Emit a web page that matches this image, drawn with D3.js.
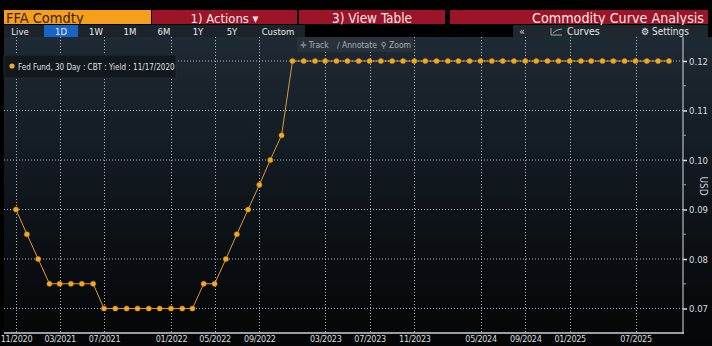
<!DOCTYPE html>
<html lang="en">
<head>
  <meta charset="UTF-8" />
  <title>FFA Comdty | Commodity Curve Analysis</title>
  <script src="https://d3js.org/d3.v7.min.js"></script>
  <style>
    html, body { margin: 0; padding: 0; background: #000; }
    svg { display: block; }
    text { font-family: 'Liberation Sans Narrow', 'DejaVu Sans Condensed', 'Arial Narrow', sans-serif; }
  </style>
</head>
<body>
  <div id="chart"></div>

  <script>
    // monthly contracts on the curve
    var months = [
      '2020-11', '2020-12', '2021-01', '2021-02', '2021-03', '2021-04', '2021-05', '2021-06',
      '2021-07', '2021-08', '2021-09', '2021-10', '2021-11', '2021-12', '2022-01', '2022-02',
      '2022-03', '2022-04', '2022-05', '2022-06', '2022-07', '2022-08', '2022-09', '2022-10',
      '2022-11', '2022-12', '2023-01', '2023-02', '2023-03', '2023-04', '2023-05', '2023-06',
      '2023-07', '2023-08', '2023-09', '2023-10', '2023-11', '2023-12', '2024-01', '2024-02',
      '2024-03', '2024-04', '2024-05', '2024-06', '2024-07', '2024-08', '2024-09', '2024-10',
      '2024-11', '2024-12', '2025-01', '2025-02', '2025-03', '2025-04', '2025-05', '2025-06',
      '2025-07', '2025-08', '2025-09', '2025-10'
    ];

    // yield (USD)
    var yields = [
      0.090, 0.085, 0.080, 0.075, 0.075, 0.075, 0.075, 0.075,
      0.070, 0.070, 0.070, 0.070, 0.070, 0.070, 0.070, 0.070,
      0.070, 0.075, 0.075, 0.080, 0.085, 0.090, 0.095, 0.100,
      0.105, 0.120, 0.120, 0.120, 0.120, 0.120, 0.120, 0.120,
      0.120, 0.120, 0.120, 0.120, 0.120, 0.120, 0.120, 0.120,
      0.120, 0.120, 0.120, 0.120, 0.120, 0.120, 0.120, 0.120,
      0.120, 0.120, 0.120, 0.120, 0.120, 0.120, 0.120, 0.120,
      0.120, 0.120, 0.120, 0.120
    ];

    var xTickLabels = ['11/2020', '03/2021', '07/2021', '01/2022', '05/2022', '09/2022',
      '03/2023', '07/2023', '11/2023', '05/2024', '09/2024', '01/2025', '07/2025'];
    var yTicks = [0.07, 0.08, 0.09, 0.10, 0.11, 0.12];
    var yMinorTicks = [0.075, 0.085, 0.095, 0.105, 0.115];

    var periodButtons = ['Live', '1D', '1W', '1M', '6M', '1Y', '5Y', 'Custom'];
    var legendText = 'Fed Fund, 30 Day : CBT : Yield : 11/17/2020';

    var W = 712, H = 346;
    var parseMonth = d3.timeParse('%Y-%m');
    var parseLabel = d3.timeParse('%m/%Y');

    var data = months.map((m, i) => ({ date: parseMonth(m), value: yields[i] }));

    var xScale = d3.scaleTime()
      .domain([parseMonth('2020-11'), parseMonth('2025-10')])
      .range([16, 669]);

    var yScale = d3.scaleLinear()
      .domain([0.07, 0.12])
      .range([308.5, 61]);

    var svg = d3.select('#chart')
      .append('svg')
      .attr('width', W)
      .attr('height', H);

    var defs = svg.append('defs');
    var grad = defs.append('linearGradient')
      .attr('id', 'bg')
      .attr('x1', 0).attr('y1', 0).attr('x2', 0).attr('y2', 1);
    grad.append('stop').attr('offset', '0%').attr('stop-color', '#1e2a34');
    grad.append('stop').attr('offset', '55%').attr('stop-color', '#0e141a');
    grad.append('stop').attr('offset', '100%').attr('stop-color', '#040506');

    svg.append('rect').attr('width', W).attr('height', H).attr('fill', '#000');

    // plot background
    svg.append('rect')
      .attr('x', 4).attr('y', 37)
      .attr('width', W - 4).attr('height', H - 37)
      .attr('fill', 'url(#bg)');

    // header bar
    var header = svg.append('g');
    header.append('rect').attr('x', 4).attr('y', 10).attr('width', 147).attr('height', 14).attr('fill', '#f59f1c');
    header.append('text').attr('x', 6).attr('y', 22.5)
      .attr('font-size', 14.5).attr('fill', '#3b1e05').text('FFA Comdty');

    var redBoxes = [
      { x: 152, w: 145, label: '1) Actions \u25BE', anchor: 'middle', size: 13 },
      { x: 299, w: 146, label: '3) View Table', anchor: 'middle', size: 13.5 },
      { x: 450, w: 258, label: 'Commodity Curve Analysis', anchor: 'end', size: 14.2 }
    ];
    redBoxes.forEach(b => {
      header.append('rect').attr('x', b.x).attr('y', 10).attr('width', b.w).attr('height', 14).attr('fill', '#9c1428');
      header.append('text')
        .attr('x', b.anchor === 'end' ? b.x + b.w - 4 : b.x + b.w / 2)
        .attr('y', 22.5)
        .attr('text-anchor', b.anchor)
        .attr('font-size', b.size)
        .attr('fill', '#f2e6e6')
        .text(b.label);
    });

    // period buttons row
    header.append('rect').attr('x', 4).attr('y', 25).attr('width', 301).attr('height', 12).attr('fill', '#1c242b');
    var btnCenters = [20, 61, 96, 130, 164, 198, 232, 278];
    header.append('rect').attr('x', 44).attr('y', 25).attr('width', 34).attr('height', 12).attr('fill', '#1a63c4');
    periodButtons.forEach((b, i) => {
      header.append('text')
        .attr('x', btnCenters[i]).attr('y', 34.5)
        .attr('text-anchor', 'middle')
        .attr('font-size', 9.5)
        .attr('fill', '#e8ecef')
        .text(b);
    });

    // right toolbar
    header.append('rect').attr('x', 513).attr('y', 25).attr('width', 195).attr('height', 12).attr('fill', '#20282f');
    header.append('text').attr('x', 522).attr('y', 34.5).attr('text-anchor', 'middle')
      .attr('font-size', 10).attr('fill', '#d0d4d8').text('\u00AB');
    header.append('path').attr('d', 'M551,28 V35 H562 M553,33 L557,30 L562,29')
      .attr('fill', 'none').attr('stroke', '#c8ccd0').attr('stroke-width', 0.8);
    header.append('text').attr('x', 567).attr('y', 34.5)
      .attr('font-size', 10.5).attr('fill', '#e0e4e8').text('Curves');
    header.append('text').attr('x', 641).attr('y', 34.5)
      .attr('font-size', 10).attr('fill', '#e0e4e8').text('\u2699 Settings');

    // grid
    var grid = svg.append('g');
    yTicks.forEach(v => {
      grid.append('line')
        .attr('x1', 4).attr('x2', 683)
        .attr('y1', yScale(v)).attr('y2', yScale(v))
        .attr('stroke', '#c9cfd5').attr('stroke-width', 1)
        .attr('stroke-dasharray', '1,2').attr('opacity', 0.85);
    });
    xTickLabels.forEach(l => {
      var x = Math.round(xScale(parseLabel(l))) + 0.5;
      grid.append('line')
        .attr('x1', x).attr('x2', x)
        .attr('y1', 37).attr('y2', 332)
        .attr('stroke', '#c9cfd5').attr('stroke-width', 1)
        .attr('stroke-dasharray', '1,2').attr('opacity', 0.85);
    });

    // axes
    var xAxis = d3.axisBottom(xScale)
      .tickValues(xTickLabels.map(parseLabel))
      .tickFormat(d3.timeFormat('%m/%Y'))
      .tickSize(0)
      .tickPadding(3);
    var gx = svg.append('g')
      .attr('transform', 'translate(0,333)')
      .call(xAxis);
    gx.select('.domain').remove();
    gx.append('line').attr('x1', 4).attr('x2', 684).attr('y1', 0).attr('y2', 0)
      .attr('stroke', '#9a9ea2').attr('stroke-width', 2);
    gx.selectAll('.tick text')
      .attr('fill', '#d8dcdf')
      .attr('font-size', 9)
      .attr('letter-spacing', -0.3)
      .attr('font-family', null);

    var yAxis = d3.axisRight(yScale)
      .tickValues(yTicks)
      .tickFormat(d3.format('.2f'))
      .tickSize(4)
      .tickPadding(2);
    var gy = svg.append('g')
      .attr('transform', 'translate(683,0)')
      .call(yAxis);
    gy.select('.domain').remove();
    gy.append('line').attr('x1', 0).attr('x2', 0).attr('y1', 37).attr('y2', 334)
      .attr('stroke', '#b8bcc0').attr('stroke-width', 1.2);
    gy.selectAll('.tick line').attr('stroke', '#e0e4e8').attr('stroke-width', 1.5);
    gy.selectAll('.tick text')
      .attr('fill', '#d8dcdf')
      .attr('font-size', 9.5)
      .attr('font-family', null);
    gy.selectAll('.minor')
      .data(yMinorTicks)
      .enter().append('line')
      .attr('x1', 0).attr('x2', 3)
      .attr('y1', d => yScale(d)).attr('y2', d => yScale(d))
      .attr('stroke', '#9a9ea2');

    svg.append('text')
      .attr('transform', 'translate(700,186) rotate(90)')
      .attr('text-anchor', 'middle')
      .attr('font-size', 10)
      .attr('fill', '#c8ccd0')
      .text('USD');

    // series
    var line = d3.line()
      .x(d => xScale(d.date))
      .y(d => yScale(d.value));

    svg.append('path')
      .datum(data)
      .attr('d', line)
      .attr('fill', 'none')
      .attr('stroke', '#d9993f')
      .attr('stroke-width', 1);

    svg.selectAll('.pt')
      .data(data)
      .enter().append('circle')
      .attr('class', 'pt')
      .attr('cx', d => xScale(d.date))
      .attr('cy', d => yScale(d.value))
      .attr('r', 2.6)
      .attr('fill', '#f7a823')
      .attr('stroke', '#c77c10')
      .attr('stroke-width', 0.5);

    // track / annotate / zoom box
    var tools = svg.append('g');
    tools.append('rect').attr('x', 297).attr('y', 37).attr('width', 116).attr('height', 15)
      .attr('fill', '#2a333b').attr('opacity', 0.95);
    tools.append('text').attr('x', 300).attr('y', 48).attr('font-size', 8.5).attr('fill', '#a9b0b6').text('\u271B Track');
    tools.append('text').attr('x', 337).attr('y', 48).attr('font-size', 8.5).attr('fill', '#a9b0b6').text('\u2215 Annotate');
    tools.append('text').attr('x', 381).attr('y', 48).attr('font-size', 8.5).attr('fill', '#a9b0b6').text('\u26B2 Zoom');

    // legend
    var legend = svg.append('g');
    legend.append('rect').attr('x', 4).attr('y', 55).attr('width', 172).attr('height', 23)
      .attr('fill', '#11181e').attr('stroke', '#2a3238').attr('stroke-width', 0.8);
    legend.append('circle').attr('cx', 12).attr('cy', 66).attr('r', 2.6).attr('fill', '#f7a823');
    legend.append('text').attr('x', 18).attr('y', 69.5)
      .attr('font-size', 8).attr('fill', '#dfe3e6').text(legendText);
  </script>
</body>
</html>
